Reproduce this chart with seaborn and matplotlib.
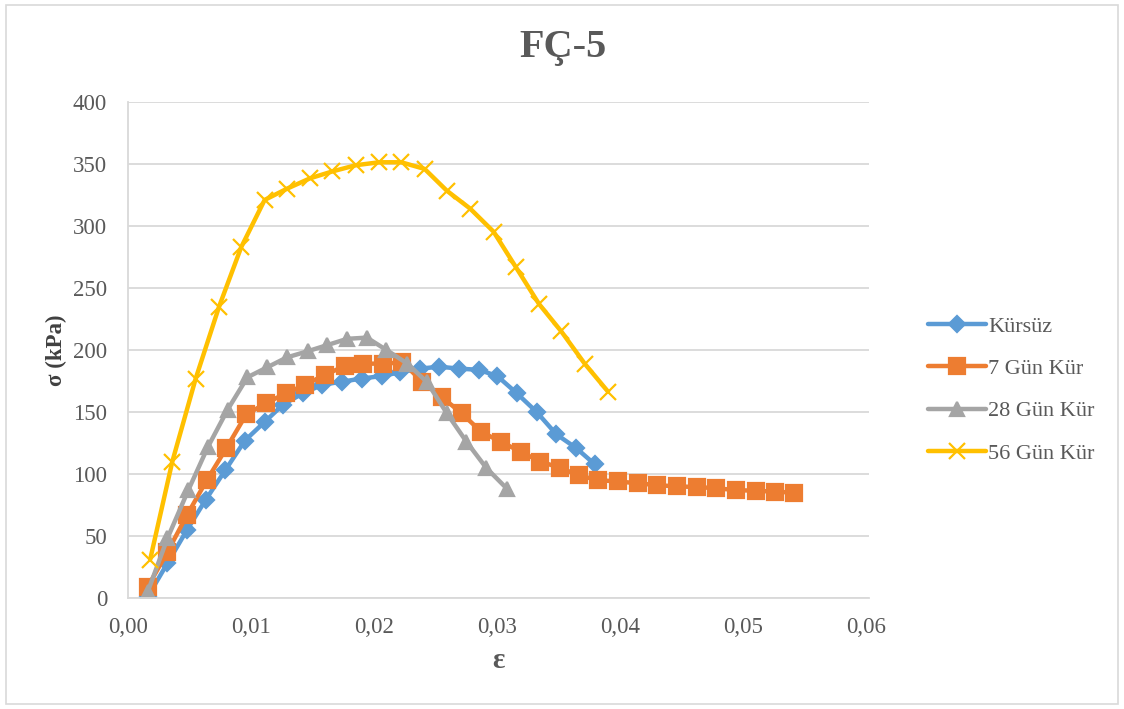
import matplotlib
matplotlib.use("Agg")
import matplotlib.pyplot as plt
from matplotlib.patches import Rectangle
from matplotlib.ticker import FuncFormatter
import seaborn as sns
import pandas as pd

# Strain (ε) and stress σ (kPa) for each curing series
eps_kursuz = [0.0016, 0.0032, 0.0048, 0.0063, 0.0079, 0.0095, 0.0111, 0.0126,
              0.0142, 0.0158, 0.0174, 0.0190, 0.0206, 0.0221, 0.0237, 0.0253,
              0.0269, 0.0285, 0.0300, 0.0316, 0.0332, 0.0348, 0.0364, 0.0379]
sig_kursuz = [1, 28, 55, 79, 103, 127, 142, 156, 165, 172, 174.5, 177, 179, 182,
              185, 186.5, 185, 184, 179, 165, 150, 132, 121, 108]

eps_7gun = [0.0016, 0.0032, 0.0048, 0.0064, 0.0080, 0.0096, 0.0112, 0.0128,
            0.0144, 0.0160, 0.0176, 0.0191, 0.0207, 0.0223, 0.0239, 0.0255,
            0.0271, 0.0287, 0.0303, 0.0319, 0.0335, 0.0351, 0.0366, 0.0382,
            0.0398, 0.0414, 0.0430, 0.0446, 0.0462, 0.0478, 0.0494, 0.0510,
            0.0526, 0.0541]
sig_7gun = [9, 37, 67, 95, 121, 148, 157, 165, 172, 180, 187, 189, 189, 190,
            174.5, 162, 149, 134, 126, 118, 110, 105, 99, 95, 94, 92.5, 91, 90,
            89.5, 88.5, 87, 86.5, 85.7, 85]

eps_28gun = [0.0016, 0.0032, 0.0049, 0.0065, 0.0081, 0.0097, 0.0113, 0.0129,
             0.0146, 0.0162, 0.0178, 0.0194, 0.0210, 0.0227, 0.0243, 0.0259,
             0.0275, 0.0291, 0.0308]
sig_28gun = [5, 48, 87, 122, 152, 178, 186, 194, 199, 204, 209, 210, 200, 189,
             174, 149, 126, 105, 88]

eps_56gun = [0.0018, 0.0036, 0.0055, 0.0074, 0.0092, 0.0111, 0.0129, 0.0148,
             0.0166, 0.0185, 0.0204, 0.0222, 0.0241, 0.0259, 0.0278, 0.0297,
             0.0315, 0.0334, 0.0352, 0.0371, 0.0390]
sig_56gun = [31, 110, 177, 235, 283, 321, 330, 338.5, 344, 349, 351.4, 351.4,
             346, 328.5, 314, 295.4, 267, 237, 215, 189, 166.4]

series_names = ["Kürsüz", "7 Gün Kür", "28 Gün Kür", "56 Gün Kür"]
x_ticks = [0.00, 0.01, 0.02, 0.03, 0.04, 0.05, 0.06]
y_ticks = [0, 50, 100, 150, 200, 250, 300, 350, 400]

frames = []
for name, e, s in zip(series_names,
                      [eps_kursuz, eps_7gun, eps_28gun, eps_56gun],
                      [sig_kursuz, sig_7gun, sig_28gun, sig_56gun]):
    frames.append(pd.DataFrame({"eps": e, "sigma": s, "seri": name}))
data = pd.concat(frames, ignore_index=True)

sns.set_style("white")
plt.rcParams["font.family"] = ["Liberation Serif", "DejaVu Serif"]

colors = {"Kürsüz": "#5B9BD5", "7 Gün Kür": "#ED7D31",
          "28 Gün Kür": "#A5A5A5", "56 Gün Kür": "#FFC000"}
markers = {"Kürsüz": "D", "7 Gün Kür": "s", "28 Gün Kür": "^", "56 Gün Kür": "x"}
msizes = {"Kürsüz": 8, "7 Gün Kür": 11, "28 Gün Kür": 10, "56 Gün Kür": 11}

fig = plt.figure(figsize=(11.24, 7.09), dpi=100)
ax = fig.add_axes([128 / 1124, 1 - 598 / 709, (869 - 128) / 1124, (598 - 102) / 709])

for name in series_names:
    sub = data[data["seri"] == name]
    sns.lineplot(data=sub, x="eps", y="sigma", ax=ax, color=colors[name],
                 marker=markers[name], markersize=msizes[name],
                 markeredgecolor=colors[name], markeredgewidth=1.6,
                 linewidth=3.2, label=name, sort=False, estimator=None)

ax.set_xlim(0, 0.0602)
ax.set_ylim(0, 400)
ax.set_xticks(x_ticks)
ax.set_yticks(y_ticks)
ax.xaxis.set_major_formatter(FuncFormatter(lambda v, p: f"{v:.2f}".replace(".", ",")))
ax.yaxis.set_major_formatter(FuncFormatter(lambda v, p: f"{v:.0f}"))
ax.tick_params(axis="both", length=0, labelsize=16.5, labelcolor="#595959")
ax.tick_params(axis="x", pad=14)
ax.tick_params(axis="y", pad=15)

ax.grid(axis="y", color="#d9d9d9", linewidth=1.3)
ax.grid(axis="x", visible=False)
ax.set_axisbelow(True)
for side in ["top", "right"]:
    ax.spines[side].set_visible(False)
for side in ["left", "bottom"]:
    ax.spines[side].set_color("#d9d9d9")
    ax.spines[side].set_linewidth(1.3)

ax.set_xlabel("ε", fontsize=21, fontweight="bold", color="#595959", labelpad=6)
ax.set_ylabel("σ (kPa)", fontsize=16.5, fontweight="bold", color="#404040", labelpad=4)

fig.text(563 / 1124, 1 - 48 / 709, "FÇ-5", ha="center", va="center",
         fontsize=29, fontweight="bold", color="#595959")

leg = ax.legend(loc="center left", bbox_to_anchor=(908 / 1124, 1 - 390 / 709),
                bbox_transform=fig.transFigure, frameon=False, fontsize=16,
                handlelength=2.6, handletextpad=0.1, labelspacing=0.98)
for t in leg.get_texts():
    t.set_color("#595959")

fig.patches.append(Rectangle((6 / 1124, 5 / 709), 1112 / 1124, 699 / 709,
                             transform=fig.transFigure, fill=False,
                             edgecolor="#d9d9d9", linewidth=1.2))

fig.savefig("out.png", dpi=100, facecolor="white")
